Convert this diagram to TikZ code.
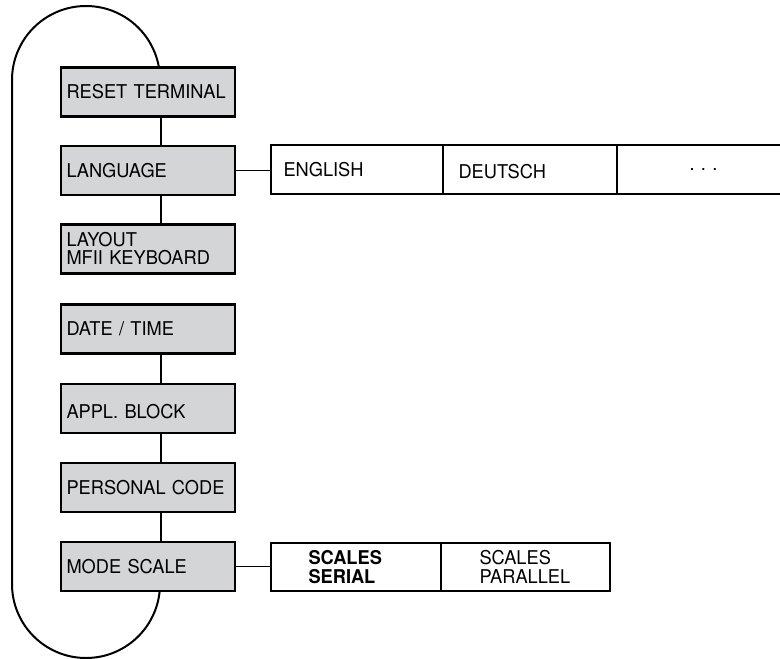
\documentclass[tikz,border=0pt]{standalone}
\usepackage{fontspec}
\setmainfont[FakeStretch=0.96]{TeX Gyre Heros}
\definecolor{boxgray}{RGB}{212,213,215}
\begin{document}
\begin{tikzpicture}[x=1pt,y=-1pt,
  txt/.style={font=\fontsize{19}{18}\selectfont},
  gbox/.style={txt, draw, line width=2.2pt, fill=boxgray, minimum width=174pt, minimum height=49pt,
    inner xsep=5.5pt, inner ysep=0pt, text width=163pt, align=left},
  obox/.style={txt, draw, line width=2.2pt, fill=white, inner ysep=0pt, align=left},
  conn/.style={line width=2pt},
  thin/.style={line width=1.1pt},
  loop/.style={line width=2pt}]
\useasboundingbox (0,0) rectangle (780,659);
% loop
\draw[loop] (160,80) arc[start angle=0, end angle=-180, radius=74] -- (12,584)
  arc[start angle=180, end angle=0, radius=74];
% main boxes
\node[gbox] (reset) at (148,92) {RESET TERMINAL};
\node[gbox] (lang) at (148,170.5) {LANGUAGE};
\node[gbox] (layout) at (148,249) {LAYOUT\\MFII KEYBOARD};
\node[gbox] (date) at (148,329) {DATE / TIME};
\node[gbox] (appl) at (148,408.5) {\raisebox{-3pt}[13.7pt][0pt]{APPL. BLOCK}};
\node[gbox] (pers) at (148,487.5) {PERSONAL CODE};
\node[gbox] (mode) at (148,566.5) {MODE SCALE};
% vertical connectors
\foreach \a/\b in {reset/lang, lang/layout, date/appl, appl/pers, pers/mode}
  \draw[conn] ([xshift=13pt]\a.south) -- ([xshift=13pt]\b.north);
% language options
\node[obox, minimum width=172pt, minimum height=49pt, inner xsep=12.5pt, text width=147pt] (eng) at (357,169.5) {ENGLISH};
\node[obox, minimum width=174pt, minimum height=49pt, inner xsep=15.5pt, text width=143pt] (deu) at (530,169.5) {\raisebox{-2pt}[13.7pt][0pt]{DEUTSCH}};
\node[obox, minimum width=173pt, minimum height=49pt, align=center, text width=153pt, inner xsep=10pt] (more) at (703.5,169.5) {.\ .\ .};
\draw[thin] (lang.east) -- (lang.east -| eng.west);
% scale options
\node[obox, minimum width=170pt, minimum height=48pt, inner xsep=37.5pt, text width=95pt,
  font=\fontsize{19}{18.5}\selectfont\bfseries] (serial) at (356,567) {SCALES\\SERIAL};
\node[obox, minimum width=169pt, minimum height=48pt, inner xsep=38.5pt, text width=92pt,
  font=\fontsize{19}{18.5}\selectfont] (par) at (525.5,567) {SCALES\\PARALLEL};
\draw[thin] (mode.east) -- (mode.east -| serial.west);
\end{tikzpicture}
\end{document}
